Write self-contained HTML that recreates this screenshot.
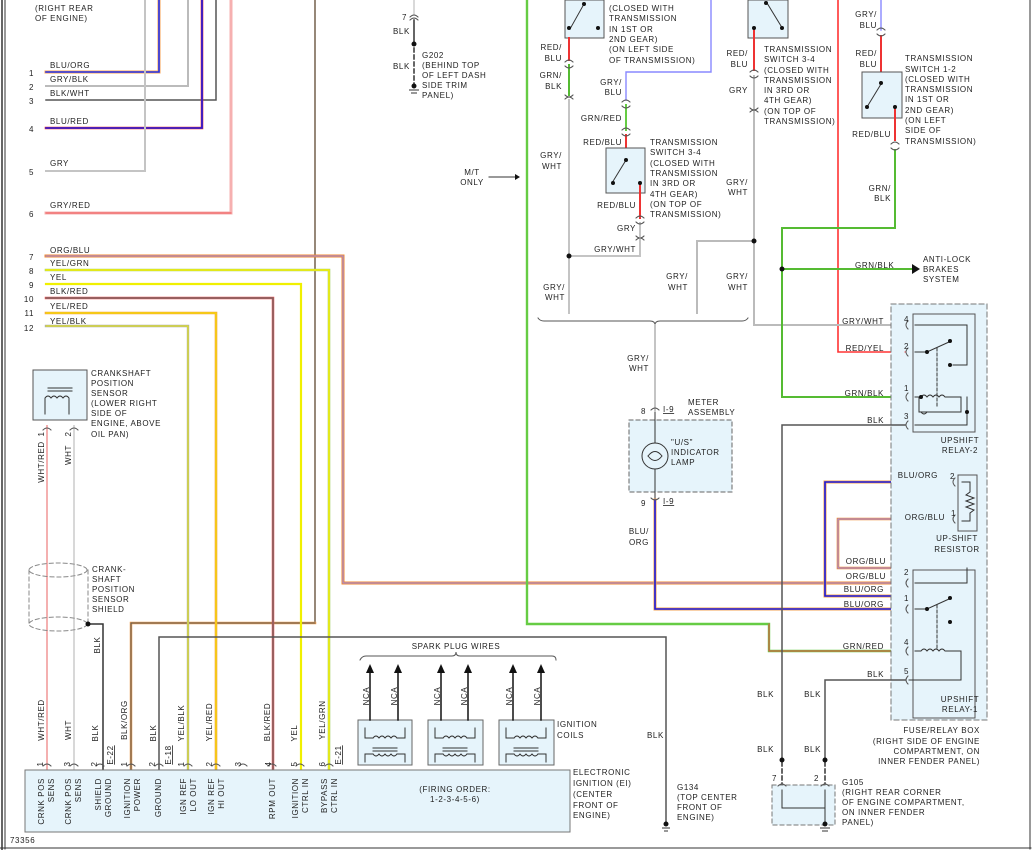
<!DOCTYPE html>
<html><head><meta charset="utf-8"><style>
body{margin:0;background:#fff}
svg{display:block}
text{font-family:"Liberation Sans",sans-serif;font-size:8px;fill:#222;letter-spacing:.6px}
</style></head><body>
<svg width="1033" height="850" viewBox="0 0 1033 850" xmlns="http://www.w3.org/2000/svg">
<g fill="none" stroke-linecap="square">
<!-- borders -->
<line x1="2" y1="0" x2="2" y2="850" stroke="#333" stroke-width="1.5"/>
<line x1="5" y1="0" x2="5" y2="849" stroke="#333" stroke-width="1"/>
<line x1="1030" y1="0" x2="1030" y2="849" stroke="#333"/>
<line x1="0" y1="848" x2="1031" y2="848" stroke="#333"/>

<!-- top-left wires -->
<polyline points="46,72 159,72 159,0" stroke="#f7a050" stroke-width="3"/><polyline points="46,72 159,72 159,0" stroke="#2233ee" stroke-width="1.6"/>
<polyline points="46,86 188,86 188,0" stroke="#bbb" stroke-width="2"/>
<polyline points="46,100 216,100 216,0" stroke="#555" stroke-width="1.5"/>
<polyline points="46,128 202,128 202,0" stroke="#e33" stroke-width="2.6"/><polyline points="46,128 202,128 202,0" stroke="#1a1ae0" stroke-width="1.6"/>
<polyline points="46,171 145,171 145,0" stroke="#c4c4c4" stroke-width="2"/>
<polyline points="46,213 231,213 231,0" stroke="#f6b0b0" stroke-width="3"/><polyline points="46,213 231,213" stroke="#e55" stroke-width="1"/>
<line x1="315" y1="0" x2="315" y2="623" stroke="#8a7a6a" stroke-width="1.8"/>
<polyline points="315,623 131,623 131,770" stroke="#f0a050" stroke-width="2.5"/><polyline points="315,623 131,623 131,770" stroke="#555" stroke-width="1"/>
<!-- 7 ORG/BLU -->
<polyline points="46,256 343,256 343,583 905,583" stroke="#f08a30" stroke-width="3"/><polyline points="46,256 343,256 343,583 905,583" stroke="#9a8af0" stroke-width="1"/>
<polyline points="46,270 329,270 329,770" stroke="#a8d070" stroke-width="2.6"/><polyline points="46,270 329,270 329,770" stroke="#f5f000" stroke-width="1.5"/>
<polyline points="46,284 301,284 301,770" stroke="#f0f000" stroke-width="2.2"/>
<polyline points="46,298 273,298 273,770" stroke="#e55" stroke-width="2.5"/><polyline points="46,298 273,298 273,770" stroke="#666" stroke-width="1.2"/>
<polyline points="46,313 216,313 216,770" stroke="#f5a040" stroke-width="2.6"/><polyline points="46,313 216,313 216,770" stroke="#f5e000" stroke-width="1.2"/>
<polyline points="46,326 188,326 188,770" stroke="#aaa" stroke-width="2.4"/><polyline points="46,326 188,326 188,770" stroke="#eef000" stroke-width="1"/>

<!-- crank sensor wires -->
<line x1="47" y1="426" x2="47" y2="770" stroke="#f4b0b0" stroke-width="2"/>
<line x1="74" y1="426" x2="74" y2="770" stroke="#d8d8d8" stroke-width="2"/>
<polyline points="88,624 103,624 103,770" stroke="#333" stroke-width="1.5"/>
<polyline points="159,770 159,637 666,637 666,822" stroke="#555" stroke-width="1.5"/>

<!-- shield -->
<g stroke="#888" stroke-dasharray="4,3">
<ellipse cx="58" cy="570" rx="29" ry="7"/><ellipse cx="58" cy="624" rx="29" ry="7"/>
<line x1="29" y1="570" x2="29" y2="624"/><line x1="88" y1="570" x2="88" y2="624"/>
</g>

<!-- crank sensor -->
<rect x="33" y="370" width="54" height="50" fill="#e6f4fb" stroke="#555"/>
<g stroke="#333" stroke-width="1"><line x1="48" y1="388" x2="72" y2="388"/><line x1="48" y1="391" x2="72" y2="391"/>
<path d="M45 414 V398 q3 -4 6 0 q3 -4 6 0 q3 -4 6 0 q3 -4 6 0 V414"/></g>

<!-- ECU -->
<rect x="25" y="770" width="545" height="62" fill="#e6f4fb" stroke="#777"/>
<!-- coils -->
<g stroke="#666" fill="#e6f4fb"><rect x="358" y="720" width="54" height="45"/><rect x="428" y="720" width="55" height="45"/><rect x="499" y="720" width="55" height="45"/></g>
<g stroke="#333" stroke-width="1">
<path d="M365 728 v10 h8 M405 728 v10 h-8 M373 738 q3-4 6 0 q3-4 6 0 q3-4 6 0 q3-4 6 0 M373 748 h24 M373 751 h24 M365 762 v-8 h8 M405 762 v-8 h-8 M373 754 q3 4 6 0 q3 4 6 0 q3 4 6 0 q3 4 6 0"/>
<path d="M435 728 v10 h8 M475 728 v10 h-8 M443 738 q3-4 6 0 q3-4 6 0 q3-4 6 0 q3-4 6 0 M443 748 h24 M443 751 h24 M435 762 v-8 h8 M475 762 v-8 h-8 M443 754 q3 4 6 0 q3 4 6 0 q3 4 6 0 q3 4 6 0"/>
<path d="M506 728 v10 h8 M546 728 v10 h-8 M514 738 q3-4 6 0 q3-4 6 0 q3-4 6 0 q3-4 6 0 M514 748 h24 M514 751 h24 M506 762 v-8 h8 M546 762 v-8 h-8 M514 754 q3 4 6 0 q3 4 6 0 q3 4 6 0 q3 4 6 0"/>
</g>
<g stroke="#111" stroke-width="1.5">
<line x1="370" y1="672" x2="370" y2="720"/><line x1="398" y1="672" x2="398" y2="720"/>
<line x1="441" y1="672" x2="441" y2="720"/><line x1="468" y1="672" x2="468" y2="720"/>
<line x1="513" y1="672" x2="513" y2="720"/><line x1="541" y1="672" x2="541" y2="720"/>
</g>
<g fill="#111"><path d="M366 673 l4 -9 l4 9z"/><path d="M394 673 l4 -9 l4 9z"/><path d="M437 673 l4 -9 l4 9z"/><path d="M464 673 l4 -9 l4 9z"/><path d="M509 673 l4 -9 l4 9z"/><path d="M537 673 l4 -9 l4 9z"/></g>
<path d="M360 660 q2 -4 6 -4 h86 q4 0 4 -4 q0 4 4 4 h92 q4 0 4 4" stroke="#555"/>

<!-- pin connector marks ECU -->
<g stroke="#555" stroke-width="1">
<path d="M43 766 q4 -4 8 0 M70 766 q4 -4 8 0 M96 766 q4 -4 8 0 M127 766 q4 -4 8 0 M155 766 q4 -4 8 0 M184 766 q4 -4 8 0 M212 766 q4 -4 8 0 M239 766 q4 -4 8 0 M268 766 q4 -4 8 0 M296 766 q4 -4 8 0 M325 766 q4 -4 8 0"/>
<path d="M43 430 q4 -4 8 0 M70 430 q4 -4 8 0"/>
</g>

<!-- right side -->
<polyline points="527,0 527,624 769,624 769,651 905,651" stroke="#6c4" stroke-width="2.4"/><polyline points="769,624 769,651 905,651" stroke="#e44" stroke-width="1"/>
<polyline points="838,0 838,352 905,352" stroke="#f33" stroke-width="1.6"/>
<!-- left switch 1-2 top -->
<rect x="565" y="0" width="39" height="38" fill="#e6f4fb" stroke="#555"/>
<g stroke="#333"><line x1="570" y1="29" x2="584" y2="4"/></g>
<line x1="569" y1="38" x2="569" y2="60" stroke="#e33" stroke-width="2"/>
<line x1="569" y1="65" x2="569" y2="95" stroke="#5b3" stroke-width="2"/>
<polyline points="569,100 569,313" stroke="#c4c4c4" stroke-width="2"/>
<polyline points="569,256 640,256 640,240" stroke="#c4c4c4" stroke-width="2"/>
<polyline points="711,0 711,72 626,72 626,100" stroke="#88f" stroke-width="1.4"/>
<line x1="626" y1="105" x2="626" y2="130" stroke="#6c4" stroke-width="2"/>
<line x1="626" y1="135" x2="626" y2="150" stroke="#e33" stroke-width="2"/>
<rect x="606" y="148" width="39" height="45" fill="#e6f4fb" stroke="#555"/>
<line x1="612" y1="183" x2="626" y2="160" stroke="#333"/>
<line x1="640" y1="183" x2="640" y2="218" stroke="#e33" stroke-width="2"/>
<line x1="640" y1="223" x2="640" y2="236" stroke="#c4c4c4" stroke-width="2"/>
<!-- right switch 3-4 top -->
<rect x="748" y="0" width="40" height="38" fill="#e6f4fb" stroke="#555"/>
<line x1="767" y1="3" x2="781" y2="26" stroke="#333"/>
<line x1="754" y1="28" x2="754" y2="70" stroke="#e33" stroke-width="2"/>
<polyline points="754,76 754,325 905,325" stroke="#bbb" stroke-width="2"/>
<polyline points="754,241 697,241 697,313" stroke="#bbb" stroke-width="2"/>
<!-- switch 1-2 right -->
<line x1="881" y1="0" x2="881" y2="30" stroke="#88f" stroke-width="1.4"/>
<line x1="881" y1="36" x2="881" y2="82" stroke="#e33" stroke-width="2"/>
<rect x="862" y="72" width="40" height="46" fill="#e6f4fb" stroke="#555"/>
<line x1="867" y1="107" x2="881" y2="84" stroke="#333"/>
<line x1="895" y1="107" x2="895" y2="140" stroke="#e33" stroke-width="2"/>
<polyline points="895,150 895,228 782,228 782,397 905,397" stroke="#5b3" stroke-width="2"/>
<line x1="782" y1="269" x2="912" y2="269" stroke="#5b3" stroke-width="2"/>
<path d="M912 264 l8 5 l-8 5z" fill="#111"/>
<!-- brace -->
<path d="M538 318 q2 3 6 3 h106 q5 0 5 4 q0 -4 5 -4 h82 q4 0 6 -3" stroke="#555"/>
<line x1="655" y1="325" x2="655" y2="410" stroke="#c4c4c4" stroke-width="2"/>
<!-- meter -->
<rect x="629" y="420" width="103" height="72" fill="#e6f4fb" stroke="#666" stroke-dasharray="4,3"/>
<line x1="655" y1="412" x2="655" y2="498" stroke="#333"/>
<circle cx="655" cy="456" r="13" fill="#e6f4fb" stroke="#333"/>
<path d="M648 456 q7 -9 14 0 q-7 9 -14 0" stroke="#333"/>
<polyline points="655,500 655,609 895,609 905,617" stroke="#f0a050" stroke-width="3"/><polyline points="655,500 655,609 895,609 905,617" stroke="#1a1ae0" stroke-width="1.6"/>
<!-- resistor wires -->
<polyline points="958,482 825,482 825,596 895,596 905,609" stroke="#f0a050" stroke-width="3"/><polyline points="958,482 825,482 825,596 895,596 905,609" stroke="#1a1ae0" stroke-width="1.6"/>
<polyline points="958,519 838,519 838,568 895,568 905,583" stroke="#f08a30" stroke-width="2.6"/><polyline points="958,519 838,519 838,568 895,568 905,583" stroke="#9a8af0" stroke-width="1"/>
<!-- fuse box -->
<rect x="891" y="304" width="96" height="416" fill="#e6f4fb" stroke="#777" stroke-dasharray="5,3"/>
<rect x="913" y="314" width="62" height="118" fill="#e6f4fb" stroke="#555"/>
<rect x="913" y="570" width="62" height="148" fill="#e6f4fb" stroke="#555"/>
<rect x="958" y="475" width="19" height="56" fill="#e6f4fb" stroke="#555"/>
<polyline points="905,352 905,352" stroke="#f33"/>
<g stroke="#333" stroke-width="1">
<path d="M915 325 h52 v40 h-14 M915 352 h12 l22 -10 M915 397 h6 q3 -4 6 0 q3 -4 6 0 q3 -4 6 0 q3 -4 6 0 h16 v15 h-42 v-15 M921 412 q3 4 6 0 M915 425 h52 v-28"/>
<path d="M937 348 v60" stroke-dasharray="3,2"/>
<path d="M915 583 h52 v-15 M915 609 h12 l22 -10 M915 651 h6 q3 -4 6 0 q3 -4 6 0 q3 -4 6 0 q3 -4 6 0 h16 v29 h-52"/>
<path d="M937 605 v45" stroke-dasharray="3,2"/>
<path d="M962 482 h8 v10 l-4 3 l8 3 l-8 3 l8 3 l-8 3 l8 3 l-4 3 v8 h-8"/>
</g>
<g fill="#111"><circle cx="927" cy="352" r="2"/><circle cx="950" cy="341" r="2"/><circle cx="950" cy="365" r="2"/><circle cx="927" cy="609" r="2"/><circle cx="950" cy="598" r="2"/><circle cx="950" cy="622" r="2"/><circle cx="967" cy="412" r="2"/><circle cx="921" cy="397" r="2"/></g>
<!-- BLK grounds -->
<polyline points="905,425 782,425 782,760" stroke="#555" stroke-width="1.5"/>
<polyline points="905,680 825,680 825,760" stroke="#555" stroke-width="1.5"/>
<g stroke="#333" stroke-width="1.5" stroke-dasharray="4,3"><line x1="782" y1="762" x2="782" y2="784"/><line x1="825" y1="762" x2="825" y2="784"/></g>
<rect x="772" y="785" width="63" height="40" fill="#e6f4fb" stroke="#777" stroke-dasharray="4,3"/>
<polyline points="782,790 782,808 825,808 825,790" stroke="#333"/><line x1="825" y1="808" x2="825" y2="822" stroke="#333"/>
<!-- G202 -->
<line x1="414" y1="0" x2="414" y2="14" stroke="#ccc" stroke-width="1.5"/>
<line x1="414" y1="20" x2="414" y2="44" stroke="#333" stroke-width="1.5"/>
<line x1="414" y1="48" x2="414" y2="84" stroke="#333" stroke-width="1.5" stroke-dasharray="4,3"/>
<line x1="489" y1="177" x2="516" y2="177" stroke="#333"/><path d="M515 174 l5 3 l-5 3z" fill="#111"/>
<!-- connector arcs misc -->
<g stroke="#555">
<path d="M410 17 q4 -4 8 0 M410 20 q4 -4 8 0"/>
<path d="M565 62 q4 -4 8 0 M565 66 q4 4 8 0 M565 95 q4 4 8 0 M565 99 q4 -4 8 0"/>
<path d="M622 102 q4 -4 8 0 M622 106 q4 4 8 0 M622 130 q4 -4 8 0 M622 134 q4 4 8 0"/>
<path d="M636 218 q4 -4 8 0 M636 222 q4 4 8 0 M636 236 q4 4 8 0 M636 240 q4 -4 8 0"/>
<path d="M750 72 q4 -4 8 0 M750 76 q4 4 8 0 M750 108 q4 4 8 0 M750 112 q4 -4 8 0"/>
<path d="M877 30 q4 -4 8 0 M877 34 q4 4 8 0 M891 144 q4 -4 8 0 M891 148 q4 4 8 0"/>
<path d="M651 410 q4 -4 8 0 M651 498 q4 4 8 0"/>
<path d="M908 321 q-4 4 0 8 M908 348 q-4 4 0 8 M908 393 q-4 4 0 8 M908 421 q-4 4 0 8 M908 579 q-4 4 0 8 M908 605 q-4 4 0 8 M908 647 q-4 4 0 8 M908 676 q-4 4 0 8 M955 478 q-4 4 0 8 M955 515 q-4 4 0 8"/>
<path d="M778 786 q4 -4 8 0 M821 786 q4 -4 8 0"/>
</g>
</g>
<!-- dots -->
<g fill="#111">
<circle cx="414" cy="44" r="2.5"/><circle cx="414" cy="86" r="2.5"/>
<circle cx="569" cy="256" r="2.5"/><circle cx="754" cy="241" r="2.5"/><circle cx="782" cy="269" r="2.5"/>
<circle cx="88" cy="624" r="2.5"/><circle cx="782" cy="760" r="2.5"/><circle cx="825" cy="760" r="2.5"/>
<circle cx="666" cy="824" r="2.5"/><circle cx="825" cy="824" r="2.5"/>
<circle cx="569" cy="28" r="2"/><circle cx="584" cy="4" r="2"/><circle cx="598" cy="28" r="2"/>
<circle cx="613" cy="183" r="2"/><circle cx="626" cy="160" r="2"/><circle cx="640" cy="183" r="2"/>
<circle cx="754" cy="28" r="2"/><circle cx="766" cy="3" r="2"/><circle cx="782" cy="28" r="2"/>
<circle cx="867" cy="107" r="2"/><circle cx="881" cy="83" r="2"/><circle cx="895" cy="107" r="2"/>
</g>
<g stroke="#333"><path d="M409 90 h10 M411 93 h6 M662 828 h8 M664 831 h4 M820 828 h10 M822 831 h6"/></g>

<!-- TEXT -->
<text x="35" y="11">(RIGHT REAR</text><text x="35" y="21">OF ENGINE)</text>
<text x="50" y="68">BLU/ORG</text><text x="50" y="82">GRY/BLK</text><text x="50" y="96">BLK/WHT</text><text x="50" y="124">BLU/RED</text><text x="50" y="166">GRY</text><text x="50" y="208">GRY/RED</text>
<text x="50" y="253">ORG/BLU</text><text x="50" y="266">YEL/GRN</text><text x="50" y="280">YEL</text><text x="50" y="294">BLK/RED</text><text x="50" y="309">YEL/RED</text><text x="50" y="324">YEL/BLK</text>
<g text-anchor="end"><text x="34" y="76">1</text><text x="34" y="90">2</text><text x="34" y="104">3</text><text x="34" y="132">4</text><text x="34" y="175">5</text><text x="34" y="217">6</text><text x="34" y="260">7</text><text x="34" y="274">8</text><text x="34" y="288">9</text><text x="34" y="302">10</text><text x="34" y="316">11</text><text x="34" y="331">12</text></g>
<text x="402" y="20">7</text><text x="393" y="34">BLK</text><text x="393" y="69">BLK</text>
<text x="422" y="58">G202</text><text x="422" y="68">(BEHIND TOP</text><text x="422" y="78">OF LEFT DASH</text><text x="422" y="88">SIDE TRIM</text><text x="422" y="98">PANEL)</text>
<text x="472" y="175" text-anchor="middle">M/T</text><text x="472" y="185" text-anchor="middle">ONLY</text>
<text x="91" y="376">CRANKSHAFT</text><text x="91" y="386">POSITION</text><text x="91" y="396">SENSOR</text><text x="91" y="406">(LOWER RIGHT</text><text x="91" y="416">SIDE OF</text><text x="91" y="426">ENGINE, ABOVE</text><text x="91" y="437">OIL PAN)</text>
<text x="92" y="572">CRANK-</text><text x="92" y="582">SHAFT</text><text x="92" y="592">POSITION</text><text x="92" y="602">SENSOR</text><text x="92" y="612">SHIELD</text>
<g text-anchor="middle">
<text transform="translate(44,434) rotate(-90)">1</text><text transform="translate(71,434) rotate(-90)">2</text>
<text transform="translate(44,462) rotate(-90)">WHT/RED</text><text transform="translate(71,455) rotate(-90)">WHT</text>
<text transform="translate(100,645) rotate(-90)">BLK</text>
<text transform="translate(44,720) rotate(-90)">WHT/RED</text><text transform="translate(71,730) rotate(-90)">WHT</text><text transform="translate(98,733) rotate(-90)">BLK</text>
<text transform="translate(127,720) rotate(-90)">BLK/ORG</text><text transform="translate(156,733) rotate(-90)">BLK</text>
<text transform="translate(184,723) rotate(-90)">YEL/BLK</text><text transform="translate(212,722) rotate(-90)">YEL/RED</text>
<text transform="translate(270,722) rotate(-90)">BLK/RED</text><text transform="translate(297,733) rotate(-90)">YEL</text><text transform="translate(325,720) rotate(-90)">YEL/GRN</text>
<text transform="translate(113,755) rotate(-90)" style="text-decoration:underline">E-22</text>
<text transform="translate(171,755) rotate(-90)" style="text-decoration:underline">E-18</text>
<text transform="translate(341,755) rotate(-90)" style="text-decoration:underline">E-21</text>
<text transform="translate(43,764) rotate(-90)">1</text><text transform="translate(70,764) rotate(-90)">3</text><text transform="translate(97,764) rotate(-90)">2</text><text transform="translate(127,764) rotate(-90)">1</text><text transform="translate(155,764) rotate(-90)">2</text><text transform="translate(184,764) rotate(-90)">1</text><text transform="translate(212,764) rotate(-90)">2</text><text transform="translate(241,764) rotate(-90)">3</text><text transform="translate(271,764) rotate(-90)">4</text><text transform="translate(297,764) rotate(-90)">5</text><text transform="translate(325,764) rotate(-90)">6</text>
<text transform="translate(369,696) rotate(-90)">NCA</text><text transform="translate(397,696) rotate(-90)">NCA</text><text transform="translate(440,696) rotate(-90)">NCA</text><text transform="translate(467,696) rotate(-90)">NCA</text><text transform="translate(512,696) rotate(-90)">NCA</text><text transform="translate(540,696) rotate(-90)">NCA</text>
</g>
<g text-anchor="end">
<text transform="translate(44,778) rotate(-90)">CRNK POS</text><text transform="translate(54,778) rotate(-90)">SENS</text>
<text transform="translate(71,778) rotate(-90)">CRNK POS</text><text transform="translate(81,778) rotate(-90)">SENS</text>
<text transform="translate(101,778) rotate(-90)">SHIELD</text><text transform="translate(111,778) rotate(-90)">GROUND</text>
<text transform="translate(130,778) rotate(-90)">IGNITION</text><text transform="translate(140,778) rotate(-90)">POWER</text>
<text transform="translate(161,778) rotate(-90)">GROUND</text>
<text transform="translate(186,778) rotate(-90)">IGN REF</text><text transform="translate(196,778) rotate(-90)">LO OUT</text>
<text transform="translate(214,778) rotate(-90)">IGN REF</text><text transform="translate(224,778) rotate(-90)">HI OUT</text>
<text transform="translate(275,778) rotate(-90)">RPM OUT</text>
<text transform="translate(298,778) rotate(-90)">IGNITION</text><text transform="translate(308,778) rotate(-90)">CTRL IN</text>
<text transform="translate(327,778) rotate(-90)">BYPASS</text><text transform="translate(337,778) rotate(-90)">CTRL IN</text>
</g>
<text x="456" y="649" text-anchor="middle">SPARK PLUG WIRES</text>
<text x="557" y="727">IGNITION</text><text x="557" y="738">COILS</text>
<text x="455" y="792" text-anchor="middle">(FIRING ORDER:</text><text x="455" y="802" text-anchor="middle">1-2-3-4-5-6)</text>
<text x="573" y="775">ELECTRONIC</text><text x="573" y="786">IGNITION (EI)</text><text x="573" y="797">(CENTER</text><text x="573" y="808">FRONT OF</text><text x="573" y="818">ENGINE)</text>
<text x="647" y="738">BLK</text>
<text x="677" y="790">G134</text><text x="677" y="800">(TOP CENTER</text><text x="677" y="810">FRONT OF</text><text x="677" y="820">ENGINE)</text>
<text x="10" y="843">73356</text>
<!-- right texts -->
<text x="609" y="11">(CLOSED WITH</text><text x="609" y="21">TRANSMISSION</text><text x="609" y="32">IN 1ST OR</text><text x="609" y="42">2ND GEAR)</text><text x="609" y="52">(ON LEFT SIDE</text><text x="609" y="63">OF TRANSMISSION)</text>
<g text-anchor="end"><text x="562" y="50">RED/</text><text x="562" y="61">BLU</text><text x="562" y="78">GRN/</text><text x="562" y="89">BLK</text>
<text x="622" y="85">GRY/</text><text x="622" y="95">BLU</text><text x="622" y="121">GRN/RED</text><text x="622" y="145">RED/BLU</text>
<text x="636" y="208">RED/BLU</text><text x="636" y="231">GRY</text><text x="636" y="252">GRY/WHT</text>
<text x="562" y="158">GRY/</text><text x="562" y="169">WHT</text><text x="565" y="290">GRY/</text><text x="565" y="300">WHT</text>
<text x="688" y="279">GRY/</text><text x="688" y="290">WHT</text><text x="748" y="279">GRY/</text><text x="748" y="290">WHT</text>
<text x="748" y="56">RED/</text><text x="748" y="67">BLU</text><text x="748" y="93">GRY</text><text x="748" y="185">GRY/</text><text x="748" y="195">WHT</text>
<text x="877" y="17">GRY/</text><text x="877" y="28">BLU</text><text x="877" y="56">RED/</text><text x="877" y="67">BLU</text><text x="891" y="137">RED/BLU</text>
<text x="891" y="191">GRN/</text><text x="891" y="201">BLK</text>
<text x="649" y="361">GRY/</text><text x="649" y="371">WHT</text><text x="649" y="534">BLU/</text><text x="649" y="545">ORG</text>
<text x="884" y="324">GRY/WHT</text><text x="884" y="351">RED/YEL</text><text x="884" y="396">GRN/BLK</text><text x="884" y="423">BLK</text>
<text x="938" y="478">BLU/ORG</text><text x="945" y="520">ORG/BLU</text>
<text x="886" y="564">ORG/BLU</text><text x="886" y="579">ORG/BLU</text><text x="884" y="592">BLU/ORG</text><text x="884" y="607">BLU/ORG</text>
<text x="884" y="649">GRN/RED</text><text x="884" y="677">BLK</text>
<text x="774" y="697">BLK</text><text x="821" y="697">BLK</text><text x="774" y="752">BLK</text><text x="821" y="752">BLK</text>
</g>
<text x="650" y="145">TRANSMISSION</text><text x="650" y="155">SWITCH 3-4</text><text x="650" y="166">(CLOSED WITH</text><text x="650" y="176">TRANSMISSION</text><text x="650" y="186">IN 3RD OR</text><text x="650" y="197">4TH GEAR)</text><text x="650" y="207">(ON TOP OF</text><text x="650" y="217">TRANSMISSION)</text>
<text x="764" y="52">TRANSMISSION</text><text x="764" y="62">SWITCH 3-4</text><text x="764" y="73">(CLOSED WITH</text><text x="764" y="83">TRANSMISSION</text><text x="764" y="93">IN 3RD OR</text><text x="764" y="103">4TH GEAR)</text><text x="764" y="114">(ON TOP OF</text><text x="764" y="124">TRANSMISSION)</text>
<text x="905" y="61">TRANSMISSION</text><text x="905" y="72">SWITCH 1-2</text><text x="905" y="82">(CLOSED WITH</text><text x="905" y="92">TRANSMISSION</text><text x="905" y="102">IN 1ST OR</text><text x="905" y="113">2ND GEAR)</text><text x="905" y="123">(ON LEFT</text><text x="905" y="133">SIDE OF</text><text x="905" y="144">TRANSMISSION)</text>
<text x="923" y="262">ANTI-LOCK</text><text x="923" y="272">BRAKES</text><text x="923" y="282">SYSTEM</text><text x="855" y="268">GRN/BLK</text>
<text x="641" y="414">8</text><text x="663" y="412" style="text-decoration:underline">I-9</text><text x="688" y="405">METER</text><text x="688" y="415">ASSEMBLY</text>
<text x="641" y="506">9</text><text x="663" y="504" style="text-decoration:underline">I-9</text>
<text x="671" y="445">"U/S"</text><text x="671" y="455">INDICATOR</text><text x="671" y="465">LAMP</text>
<text x="904" y="322">4</text><text x="904" y="349">2</text><text x="904" y="391">1</text><text x="904" y="419">3</text>
<text x="950" y="479">2</text><text x="951" y="516">1</text>
<text x="904" y="575">2</text><text x="904" y="601">1</text><text x="904" y="645">4</text><text x="904" y="674">5</text>
<text x="960" y="443" text-anchor="middle">UPSHIFT</text><text x="960" y="453" text-anchor="middle">RELAY-2</text>
<text x="957" y="541" text-anchor="middle">UP-SHIFT</text><text x="957" y="552" text-anchor="middle">RESISTOR</text>
<text x="960" y="702" text-anchor="middle">UPSHIFT</text><text x="960" y="712" text-anchor="middle">RELAY-1</text>
<g text-anchor="end"><text x="980" y="733">FUSE/RELAY BOX</text><text x="980" y="744">(RIGHT SIDE OF ENGINE</text><text x="980" y="754">COMPARTMENT, ON</text><text x="980" y="764">INNER FENDER PANEL)</text></g>
<text x="772" y="781">7</text><text x="814" y="781">2</text>
<text x="842" y="785">G105</text><text x="842" y="795">(RIGHT REAR CORNER</text><text x="842" y="805">OF ENGINE COMPARTMENT,</text><text x="842" y="815">ON INNER FENDER</text><text x="842" y="825">PANEL)</text>
</svg>
</body></html>
